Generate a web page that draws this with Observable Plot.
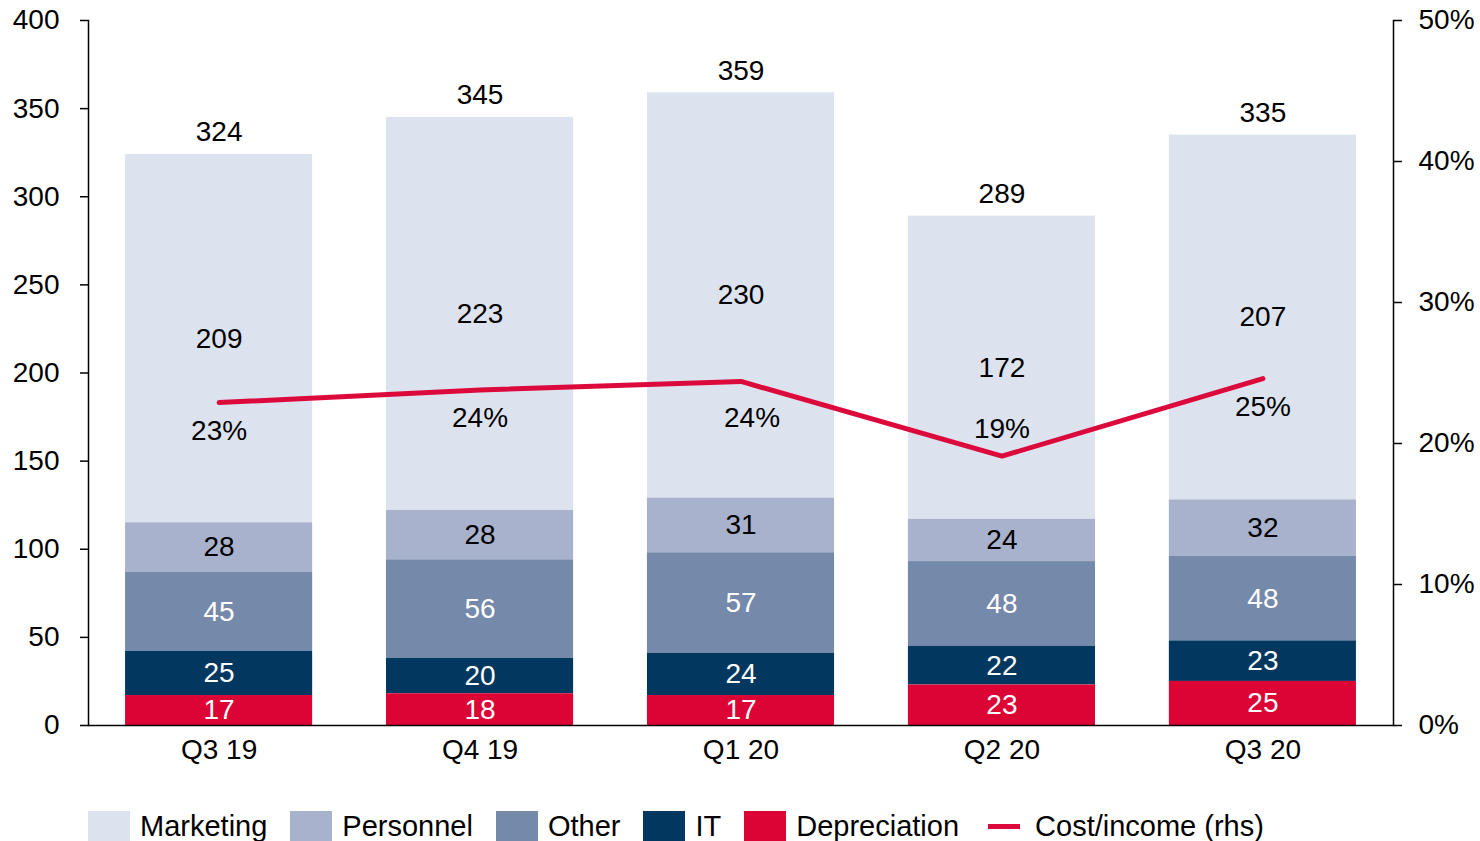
<!DOCTYPE html>
<html>
<head>
<meta charset="utf-8">
<script src="https://cdn.jsdelivr.net/npm/d3@7"></script>
<script src="https://cdn.jsdelivr.net/npm/@observablehq/plot@0.6"></script>
<style>
  html, body { margin: 0; padding: 0; background: #fff; }
  body { width: 1480px; height: 841px; overflow: hidden; font-family: "Liberation Sans", Arial, sans-serif; }
  #legend { display: flex; align-items: center; margin-left: 88px; margin-top: 30px; font-size: 29px; color: #000; white-space: nowrap; }
  .item { display: flex; align-items: center; margin-right: 23px; }
  .sw { width: 42px; height: 31px; margin-right: 10px; }
  .ln { width: 32px; height: 5px; margin-right: 15px; margin-left: 6px; }
</style>
</head>
<body>
<div id="chart"></div>
<div id="legend"></div>
<script>
const quarters = ["Q3 19", "Q4 19", "Q1 20", "Q2 20", "Q3 20"];
const series = ["Marketing", "Personnel", "Other", "IT", "Depreciation"];
const colors = ["#dde3ee", "#a9b2cc", "#7589aa", "#02375f", "#dc0435"];
const marketing = [209, 223, 230, 172, 207];
const personnel = [28, 28, 31, 24, 32];
const other = [45, 56, 57, 48, 48];
const it = [25, 20, 24, 22, 23];
const depreciation = [17, 18, 17, 23, 25];
const costIncome = [22.9, 23.8, 24.4, 19.1, 24.6];
const costIncomeLabels = ["23%", "24%", "24%", "19%", "25%"];
const yTicks = [0, 50, 100, 150, 200, 250, 300, 350, 400];
const rhsTicks = [0, 10, 20, 30, 40, 50];

const lineColor = "#dc0a3c";
const values = {Marketing: marketing, Personnel: personnel, Other: other, IT: it, Depreciation: depreciation};
const stackOrder = ["Depreciation", "IT", "Other", "Personnel", "Marketing"];
const whiteText = new Set(["Other", "IT", "Depreciation"]);

const rows = [];
quarters.forEach((q, i) => series.forEach(s => rows.push({quarter: q, series: s, value: values[s][i]})));
const totals = quarters.map((q, i) => ({quarter: q, total: series.reduce((a, s) => a + values[s][i], 0)}));
// rhs scale: 50% maps to 400 on the lhs scale
const rhsFactor = 400 / 50;
const ci = quarters.map((q, i) => ({quarter: q, v: costIncome[i], label: costIncomeLabels[i]}));
const ciOffsets = {"Q1 20": [11, 37], "Q2 20": [0, -27]};

const chart = Plot.plot({
  width: 1480,
  height: 780,
  marginTop: 20,
  marginBottom: 55,
  marginLeft: 88,
  marginRight: 87,
  style: {fontFamily: "'Liberation Sans', Arial, sans-serif", fontSize: "28px", color: "#000", background: "#fff"},
  x: {domain: quarters, paddingInner: 0.283, paddingOuter: 0.142, round: false, label: null},
  y: {domain: [0, 400], label: null},
  color: {domain: series, range: colors},
  marks: [
    Plot.barY(rows, {x: "quarter", y: "value", fill: "series", order: stackOrder}),
    Plot.text(rows, Plot.stackY({x: "quarter", y: "value", z: "series", order: stackOrder, text: d => String(d.value),
      fill: d => whiteText.has(d.series) ? "#fff" : "#000", fontSize: 28})),
    Plot.text(totals, {x: "quarter", y: "total", text: d => String(d.total), dy: -22, fontSize: 28, fill: "#000"}),
    Plot.line(ci, {x: "quarter", y: d => d.v * rhsFactor, stroke: lineColor, strokeWidth: 5, strokeLinejoin: "miter"}),
    ...ci.map(d => Plot.text([d], {x: "quarter", y: e => e.v * rhsFactor, text: "label", fontSize: 28, fill: "#000",
      dx: (ciOffsets[d.quarter] || [0, 28])[0], dy: (ciOffsets[d.quarter] || [0, 28])[1]})),
    Plot.axisY({anchor: "left", ticks: yTicks, tickSize: 8, tickPadding: 21, fontSize: 28, stroke: "#000", strokeWidth: 1.5, label: null}),
    Plot.axisY({anchor: "right", ticks: rhsTicks.map(t => t * rhsFactor), tickSize: 8, tickPadding: 17, fontSize: 28, stroke: "#000", strokeWidth: 1.5,
      tickFormat: d => (d / rhsFactor) + "%", label: null}),
    Plot.axisX({tickSize: 0, tickPadding: 14, fontSize: 28, label: null}),
    Plot.frame({anchor: "left", stroke: "#000", strokeWidth: 1.5}),
    Plot.frame({anchor: "right", stroke: "#000", strokeWidth: 1.5}),
    Plot.frame({anchor: "bottom", stroke: "#000", strokeWidth: 1.5})
  ]
});
document.getElementById("chart").appendChild(chart);

const legend = document.getElementById("legend");
series.forEach((s, i) => {
  const el = document.createElement("div");
  el.className = "item";
  el.innerHTML = `<div class="sw" style="background:${colors[i]}"></div><span>${s}</span>`;
  legend.appendChild(el);
});
const li = document.createElement("div");
li.className = "item";
li.innerHTML = `<div class="ln" style="background:${lineColor}"></div><span>Cost/income (rhs)</span>`;
legend.appendChild(li);
</script>
</body>
</html>
